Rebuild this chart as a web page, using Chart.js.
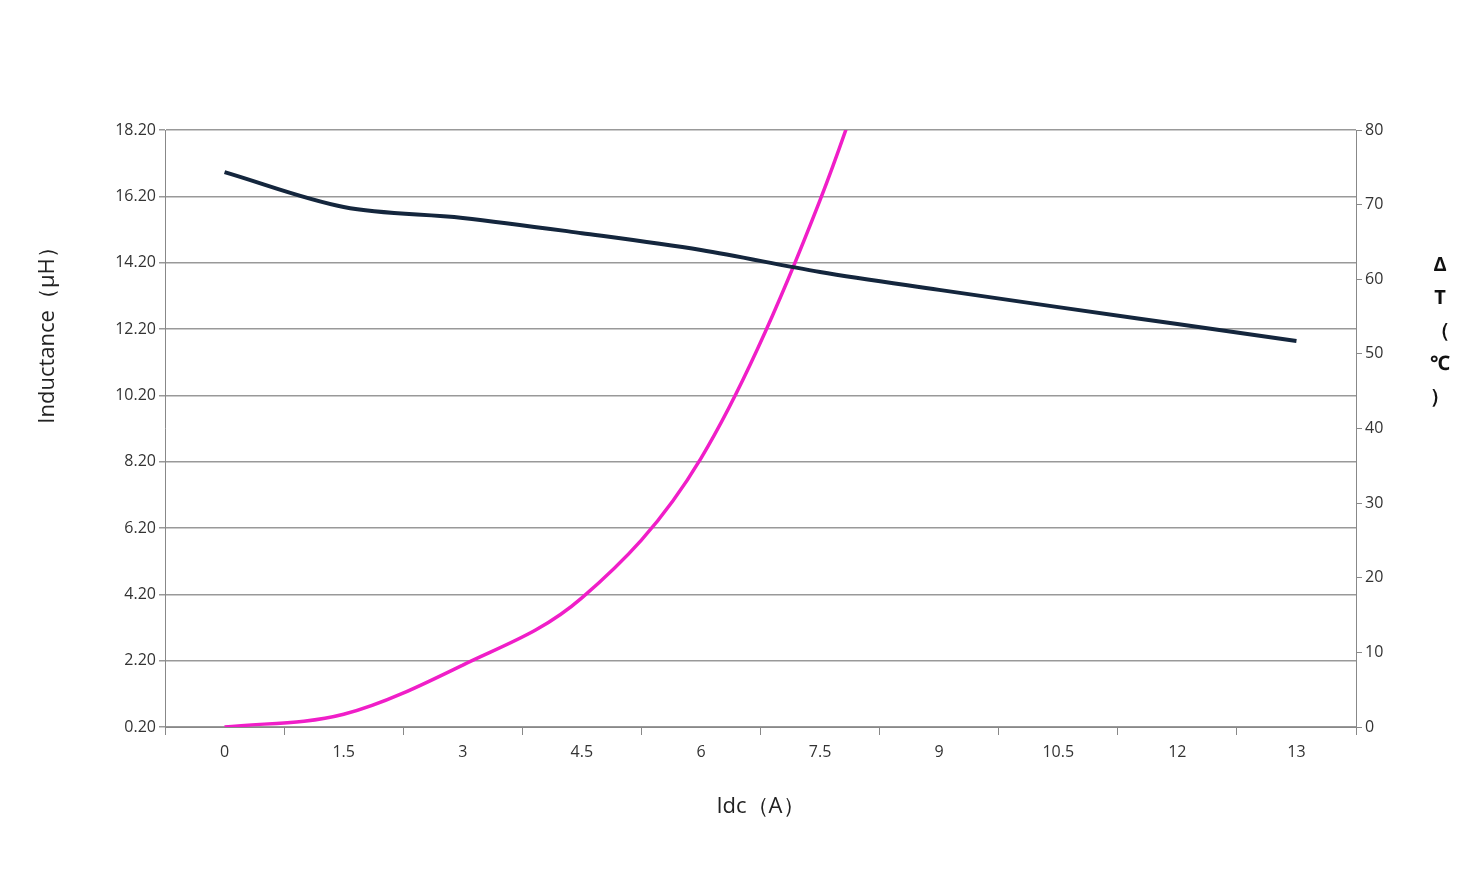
<!DOCTYPE html>
<html><head><meta charset="utf-8">
<script src="https://cdn.jsdelivr.net/npm/chart.js@4"></script>
<style>html,body{margin:0;padding:0;background:#fff}#c{display:block}</style>
</head><body>
<div style="width:1474px;height:880px"><canvas id="c"></canvas></div>
<script>
const categories = ['0','1.5','3','4.5','6','7.5','9','10.5','12','13'];
const inductance = [16.93,15.88,15.55,15.09,14.58,13.92,13.38,12.86,12.35,11.84];
const deltaT = [0,1.7,8.3,17.3,36,70.6,118,null,null,null];
const font = "'Open Sans', 'Noto Sans', sans-serif";

const labelsPlugin = {
  id:'lbl',
  afterDraw(chart){
    const c = chart.ctx;
    c.save();
    c.fillStyle = '#222';
    c.font = '22px ' + font;
    c.translate(48, 330);
    c.rotate(-Math.PI/2);
    c.textAlign='center'; c.textBaseline='middle';
    c.fillText('Inductance（μH）',0,0);
    c.restore();
    c.save();
    c.fillStyle='#111';
    c.font='bold 20px ' + font;
    c.textAlign='center'; c.textBaseline='middle';
    ['Δ','T','（','℃','）'].forEach((ch,i)=>c.fillText(ch,1440,265+i*33));
    c.restore();
  }
};

new Chart(document.getElementById('c'), {
  type:'line',
  data:{labels:categories, datasets:[
    {data:inductance, yAxisID:'y', borderColor:'#14263d', borderWidth:4, pointRadius:0, cubicInterpolationMode:'monotone'},
    {data:deltaT, yAxisID:'y1', borderColor:'#f01ec8', borderWidth:3.5, pointRadius:0, cubicInterpolationMode:'monotone'}
  ]},
  options:{
    responsive:true, maintainAspectRatio:false, animation:false,
    layout:{padding:{top:130,left:0,right:0,bottom:0}},
    plugins:{legend:{display:false}, tooltip:{enabled:false}},
    scales:{
      x:{offset:true,
        afterFit(s){s.height=153;},
        grid:{offset:true, drawOnChartArea:false, tickLength:8, color:'#888'},
        border:{color:'#888'},
        ticks:{color:'#333', font:{size:16, family:font}, padding:8},
        title:{display:true, text:'Idc（A）', color:'#222', font:{size:22, family:font}, padding:{top:4, bottom:60}}
      },
      y:{position:'left', min:0.2, max:18.2,
        afterFit(s){s.width=165;},
        afterBuildTicks(s){const t=[];for(let v=0.2;v<=18.21;v+=2)t.push({value:+v.toFixed(2)});s.ticks=t;},
        grid:{color:'#999', lineWidth:1.5, tickLength:6},
        border:{color:'#888'},
        ticks:{color:'#333', font:{size:16, family:font}, callback:v=>v.toFixed(2)}
      },
      y1:{position:'right', min:0, max:80,
        afterFit(s){s.width=118;},
        grid:{drawOnChartArea:false, tickLength:6, color:'#888'},
        border:{color:'#888'},
        ticks:{stepSize:10, color:'#333', font:{size:16, family:font}}
      }
    }
  },
  plugins:[labelsPlugin]
});
</script>
</body></html>
